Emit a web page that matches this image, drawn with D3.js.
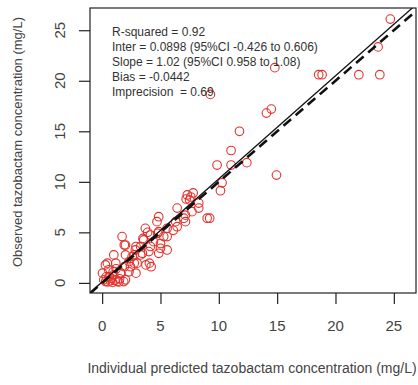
<!DOCTYPE html>
<html>
<head>
<meta charset="utf-8">
<script src="https://cdn.jsdelivr.net/npm/d3@7"></script>
<style>
  body { margin: 0; background: #fff; }
  text { font-family: "Liberation Sans", Arial, sans-serif; }
</style>
</head>
<body>
<div id="wrapper"></div>
<script>
// individual predicted (x) vs observed (y), mg/L
const predicted = [
    24.7, 23.65, 18.56, 18.85, 22.0, 23.8, 14.8, 9.28, 14.08, 14.5,
    11.77, 11.05, 9.85, 11.05, 12.4, 14.94, 10.28, 10.14, 9.22, 9.0,
    7.3, 7.6, 7.5, 7.8, 7.2, 8.28, 8.28, 6.43, 7.7, 7.14,
    4.85, 4.7, 5.57, 6.43, 7.14, 6.3, 7.0, 6.1, 5.57, 3.9,
    4.76, 4.85, 4.14, 3.7, 5.28, 4.4, 3.56, 3.3, 4.14, 5.0,
    5.57, 4.85, 2.85, 4.0, 5.0, 1.71, 2.0, 3.5, 3.3, 2.57,
    3.0, 2.43, 4.05, 4.2, 1.9, 2.9, 1.0, 2.0, 2.75, 3.45,
    0.45, 1.17, 1.9, 2.75, 3.75, 2.3, 2.9, 1.6, 0.03, 0.3,
    0.9, 1.3, 0.6, 2.0, 1.85, 1.0, 0.14, 0.28, 0.57, 1.5,
    0.7, 1.2, 2.3, 1.57, 0.5, 1.1, 0.35, 0.8, 1.45, 0.95
]
const observed = [
    26.1, 23.35, 20.6, 20.6, 20.6, 20.6, 21.3, 18.65, 16.8, 17.2,
    15.0, 13.1, 11.66, 11.66, 11.9, 10.67, 9.9, 9.12, 6.4, 6.4,
    8.7, 8.5, 8.2, 8.9, 8.3, 7.9, 7.4, 7.4, 7.05, 6.7,
    6.55, 6.06, 5.4, 5.56, 6.06, 6.06, 6.4, 5.2, 4.58, 5.0,
    4.9, 5.07, 4.74, 5.4, 4.58, 4.08, 4.25, 3.6, 3.6, 3.43,
    3.26, 2.93, 3.26, 3.1, 3.9, 4.58, 3.75, 4.4, 2.77, 2.6,
    1.95, 1.6, 1.95, 1.6, 3.75, 3.6, 2.77, 2.77, 2.77, 2.93,
    1.95, 1.95, 1.6, 1.95, 1.78, 1.1, 0.96, 0.96, 0.96, 0.13,
    0.05, 0.13, 0.62, 0.3, 0.13, 0.8, 0.3, 1.78, 1.3, 0.4,
    0.2, 1.4, 2.1, 1.0, 0.1, 0.25, 0.6, 0.45, 0.1, 1.1
]
const xTicks = [0, 5, 10, 15, 20, 25]
const yTicks = [0, 5, 10, 15, 20, 25]
const statLines = [
    "R-squared = 0.92",
    "Inter = 0.0898 (95%CI -0.426 to 0.606)",
    "Slope = 1.02 (95%CI 0.958 to 1.08)",
    "Bias = -0.0442",
    "Imprecision  = 0.69",
]
const intercept = 0.0898
const slope = 1.02

const dataset = predicted.map((p, i) => ({ pred: p, obs: observed[i] }))

let dimensions = {
    width: 418,
    height: 385,
    margin: { top: 8, right: 2, bottom: 92, left: 90 },
}
dimensions.boundedWidth = dimensions.width - dimensions.margin.left - dimensions.margin.right
dimensions.boundedHeight = dimensions.height - dimensions.margin.top - dimensions.margin.bottom

const wrapper = d3.select("#wrapper")
    .append("svg")
    .attr("width", dimensions.width)
    .attr("height", dimensions.height)

const bounds = wrapper.append("g")
    .attr("transform", `translate(${dimensions.margin.left},${dimensions.margin.top})`)

const xScaler = d3.scaleLinear()
    .domain([-1.04, 26.9])
    .range([0, dimensions.boundedWidth])
const yScaler = d3.scaleLinear()
    .domain([-1.0, 27.2])
    .range([dimensions.boundedHeight, 0])

bounds.append("clipPath")
    .attr("id", "clip")
    .append("rect")
    .attr("width", dimensions.boundedWidth)
    .attr("height", dimensions.boundedHeight)

// points
bounds.append("g")
    .selectAll("circle")
    .data(dataset)
    .join("circle")
    .attr("cx", d => xScaler(d.pred))
    .attr("cy", d => yScaler(d.obs))
    .attr("r", 4.3)
    .attr("fill", "none")
    .attr("stroke", "#e2312b")
    .attr("stroke-width", 1.1)

// lines: identity dashed, regression solid
const [x0, x1] = xScaler.domain()
const lines = bounds.append("g").attr("clip-path", "url(#clip)")
lines.append("line")
    .attr("x1", xScaler(x0)).attr("y1", yScaler(x0))
    .attr("x2", xScaler(x1)).attr("y2", yScaler(x1))
    .attr("stroke", "#111")
    .attr("stroke-width", 2.6)
    .attr("stroke-dasharray", "10,6")
lines.append("line")
    .attr("x1", xScaler(x0)).attr("y1", yScaler(intercept + slope * x0))
    .attr("x2", xScaler(x1)).attr("y2", yScaler(intercept + slope * x1))
    .attr("stroke", "#111")
    .attr("stroke-width", 1.3)

// box
bounds.append("rect")
    .attr("width", dimensions.boundedWidth)
    .attr("height", dimensions.boundedHeight)
    .attr("fill", "none")
    .attr("stroke", "#222")
    .attr("stroke-width", 1.2)

// axes
const xAxis = bounds.append("g")
    .attr("transform", `translate(0,${dimensions.boundedHeight})`)
    .call(d3.axisBottom(xScaler).tickValues(xTicks).tickSize(11).tickFormat(""))
xAxis.select(".domain").remove()
xAxis.selectAll(".tick line").attr("stroke", "#222").attr("stroke-width", 1.2)

const yAxis = bounds.append("g")
    .call(d3.axisLeft(yScaler).tickValues(yTicks).tickSize(11).tickFormat(""))
yAxis.select(".domain").remove()
yAxis.selectAll(".tick line").attr("stroke", "#222").attr("stroke-width", 1.2)

bounds.append("g")
    .selectAll("text")
    .data(xTicks)
    .join("text")
    .attr("x", d => xScaler(d))
    .attr("y", dimensions.boundedHeight + 38)
    .attr("text-anchor", "middle")
    .attr("fill", "#444")
    .style("font-size", "15px")
    .text(d => d)

bounds.append("g")
    .selectAll("text")
    .data(yTicks)
    .join("text")
    .attr("transform", d => `translate(-25,${yScaler(d)}) rotate(-90)`)
    .attr("text-anchor", "middle")
    .attr("fill", "#444")
    .style("font-size", "15px")
    .text(d => d)

wrapper.append("text")
    .attr("x", 252)
    .attr("y", 373)
    .attr("text-anchor", "middle")
    .attr("fill", "#444")
    .style("font-size", "14px")
    .text("Individual predicted tazobactam concentration (mg/L)")

wrapper.append("text")
    .attr("transform", "translate(22,142) rotate(-90)")
    .attr("text-anchor", "middle")
    .attr("fill", "#444")
    .style("font-size", "13px")
    .text("Observed tazobactam concentration (mg/L)")

wrapper.append("g")
    .selectAll("text")
    .data(statLines)
    .join("text")
    .attr("x", 112)
    .attr("y", (d, i) => 36 + i * 15)
    .attr("fill", "#333")
    .style("font-size", "12px")
    .style("white-space", "pre")
    .text(d => d)
</script>
</body>
</html>
